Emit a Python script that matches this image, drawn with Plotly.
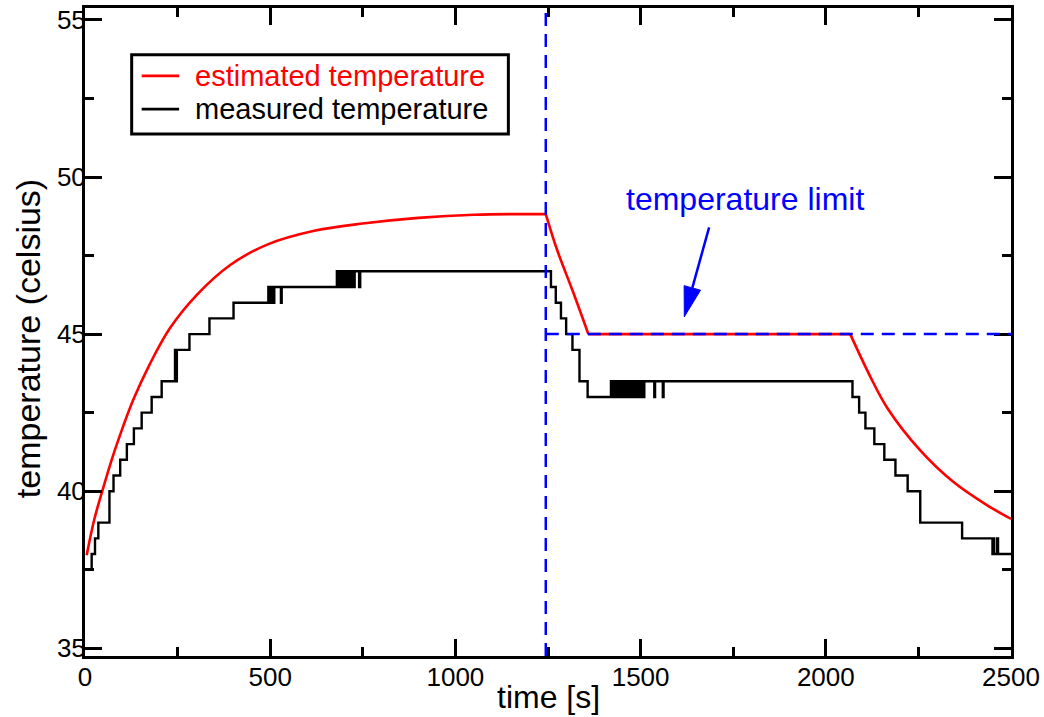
import plotly.graph_objects as go

# ---------------- data ----------------
# estimated temperature: None separates the smooth pieces (sharp corners in the original)
est_time = [4.5, 25, 49, 72, 95, 130, 176, 230, 302, 392, 492, 616, 750, 900, 1050, 1244, None,
            1244, 1274, 1319, 1359, None,
            1359, 1500, 1700, 1900, 2066, None,
            2066, 2120, 2166, 2255, 2344, 2436, 2500]
est_temp = [37.96, 39.1, 40.1, 41.0, 41.8, 42.9, 44.07, 45.2, 46.25, 47.2, 47.85, 48.28, 48.52, 48.7, 48.8, 48.82, None,
            48.82, 47.7, 46.3, 45.0, None,
            45.0, 45.0, 45.0, 45.0, 45.0, None,
            45.0, 43.65, 42.65, 41.3, 40.3, 39.55, 39.12]

meas_time = [3, 18, 27, 36, 66, 77, 95, 113, 132, 153, 180, 207,
             243, 246, 248, 282, 336, 401,
             495, 497, 499, 501, 503, 505, 507, 509, 511, 529, 531,
             680, 683, 686, 689, 692, 695, 698, 701, 704, 707, 710, 713, 716, 719, 722, 725, 728, 740, 743,
             1258, 1271, 1285, 1299, 1316, 1335, 1357,
             1420, 1423, 1426, 1429, 1432, 1435, 1438, 1441, 1444, 1447, 1450, 1453, 1456, 1459, 1462, 1465,
             1468, 1471, 1474, 1477, 1480, 1483, 1486, 1489, 1492, 1495, 1498, 1501, 1504, 1507, 1510,
             1537, 1539, 1560, 1562,
             2072, 2090, 2107, 2131, 2158, 2188, 2221, 2255, 2368,
             2450, 2452, 2454, 2462, 2465, 2500]
meas_temp = [37.5, 38.0, 38.5, 39.0, 40.0, 40.5, 41.0, 41.5, 42.0, 42.5, 43.0, 43.5,
             44.5, 43.5, 44.5, 45.0, 45.5, 46.0,
             46.5, 46.0, 46.5, 46.0, 46.5, 46.0, 46.5, 46.0, 46.5, 46.0, 46.5,
             47.0, 46.5, 47.0, 46.5, 47.0, 46.5, 47.0, 46.5, 47.0, 46.5, 47.0, 46.5, 47.0, 46.5, 47.0, 46.5, 47.0, 46.5, 47.0,
             46.5, 46.0, 45.5, 45.0, 44.5, 43.5, 43.0,
             43.5, 43.0, 43.5, 43.0, 43.5, 43.0, 43.5, 43.0, 43.5, 43.0, 43.5, 43.0, 43.5, 43.0, 43.5, 43.0,
             43.5, 43.0, 43.5, 43.0, 43.5, 43.0, 43.5, 43.0, 43.5, 43.0, 43.5, 43.0, 43.5, 43.0, 43.5,
             43.0, 43.5, 43.0, 43.5,
             43.0, 42.5, 42.0, 41.5, 41.0, 40.5, 40.0, 39.0, 38.5,
             38.0, 38.5, 38.0, 38.5, 38.0, 38.0]

limit_temp = 45.0
limit_time = 1244
series_names = ["estimated temperature", "measured temperature"]
series_colors = ["#ff0000", "#000000"]

X_RANGE = [0, 2500]
Y_RANGE = [34.755, 55.38]

FONT = "Liberation Sans, Arial, Helvetica, sans-serif"
W, H = 1044, 717
M = dict(l=85, r=33.3, t=8, b=61.3)
pw = W - M["l"] - M["r"]
ph = H - M["t"] - M["b"]

fig = go.Figure()
fig.add_trace(go.Scatter(x=est_time, y=est_temp, mode="lines", name=series_names[0],
                         line=dict(color=series_colors[0], width=2.6, shape="spline", smoothing=1.0),
                         connectgaps=False, showlegend=False))
fig.add_trace(go.Scatter(x=meas_time, y=meas_temp, mode="lines", name=series_names[1],
                         line=dict(color=series_colors[1], width=2.4, shape="hv"), showlegend=False))

# temperature limit dashed lines
dash = "13px,8px"
fig.add_shape(type="line", xref="x", yref="paper", x0=limit_time, x1=limit_time, y0=0, y1=1,
              line=dict(color="#0000ff", width=2.5, dash=dash), layer="above")
fig.add_shape(type="line", xref="x", yref="y", x0=limit_time, x1=X_RANGE[1], y0=limit_temp, y1=limit_temp,
              line=dict(color="#0000ff", width=2.5, dash=dash), layer="above")

# annotation text + arrow
fig.add_annotation(x=1782, y=49.3, text="temperature limit", showarrow=False,
                   font=dict(family=FONT, size=32, color="#0000ff"), xanchor="center", yanchor="middle")

head = (1618, 45.55)
tail = (1685, 48.40)
sx = pw / (X_RANGE[1] - X_RANGE[0])
sy = ph / (Y_RANGE[1] - Y_RANGE[0])
dxp = (head[0] - tail[0]) * sx
dyp = (head[1] - tail[1]) * sy
L = (dxp ** 2 + dyp ** 2) ** 0.5
ux, uy = dxp / L, dyp / L
hl, hw = 30, 8.5
bx, by = -ux * hl, -uy * hl
p1 = (head[0] + (bx - uy * hw) / sx, head[1] + (by + ux * hw) / sy)
p2 = (head[0] + (bx + uy * hw) / sx, head[1] + (by - ux * hw) / sy)
base = (head[0] + bx / sx, head[1] + by / sy)
fig.add_shape(type="line", xref="x", yref="y", x0=tail[0], y0=tail[1], x1=base[0], y1=base[1],
              line=dict(color="#0000ff", width=2.5))
fig.add_shape(type="path", xref="x", yref="y",
              path=f"M {head[0]},{head[1]} L {p1[0]},{p1[1]} L {p2[0]},{p2[1]} Z",
              fillcolor="#0000ff", line=dict(color="#0000ff", width=1))

# manual legend box
fig.add_shape(type="rect", xref="x", yref="y", x0=126, x1=1143, y0=51.37, y1=53.89,
              line=dict(color="black", width=3), fillcolor="white", layer="above")
leg_y = [53.22, 52.16]
for name, col, yy in zip(series_names, series_colors, leg_y):
    fig.add_shape(type="line", xref="x", yref="y", x0=153, x1=254, y0=yy, y1=yy,
                  line=dict(color=col, width=2.6), layer="above")
    fig.add_annotation(x=292, y=yy, text=name, showarrow=False, xanchor="left", yanchor="middle",
                       font=dict(family=FONT, size=29, color=col))

# axis titles
fig.add_annotation(xref="paper", yref="paper", x=0.5, y=(H - M["b"] - 697) / ph,
                   text="time [s]", showarrow=False, xanchor="center", yanchor="middle",
                   font=dict(family=FONT, size=32, color="black"))
fig.add_annotation(xref="paper", yref="paper", x=(28 - M["l"]) / pw, y=(H - M["b"] - 338) / ph,
                   text="temperature (celsius)", showarrow=False, textangle=-90,
                   xanchor="center", yanchor="middle",
                   font=dict(family=FONT, size=34, color="black"))

axis_common = dict(showline=True, linewidth=3, linecolor="black", mirror="allticks",
                   ticks="inside", ticklen=17, tickwidth=3, tickcolor="black",
                   showgrid=False, zeroline=False, automargin=False, ticklabeloverflow="allow",
                   tickfont=dict(family=FONT, size=26, color="black"))

fig.update_xaxes(range=X_RANGE, tick0=0, dtick=500, ticklabelstandoff=-4,
                 minor=dict(dtick=250, ticklen=9, tickwidth=3, ticks="inside", tickcolor="black", showgrid=False),
                 **axis_common)
fig.update_yaxes(range=Y_RANGE, tick0=35, dtick=5, ticklabelstandoff=-9,
                 minor=dict(dtick=2.5, ticklen=9, tickwidth=3, ticks="inside", tickcolor="black", showgrid=False),
                 **axis_common)

fig.update_layout(width=W, height=H, margin=M, plot_bgcolor="white", paper_bgcolor="white",
                  font=dict(family=FONT), showlegend=False)

# let the figure fill the window exactly (no default page margin), no toolbar
fig.write_html("out.html", config={"displayModeBar": False},
               post_script="document.body.style.margin='0';")
